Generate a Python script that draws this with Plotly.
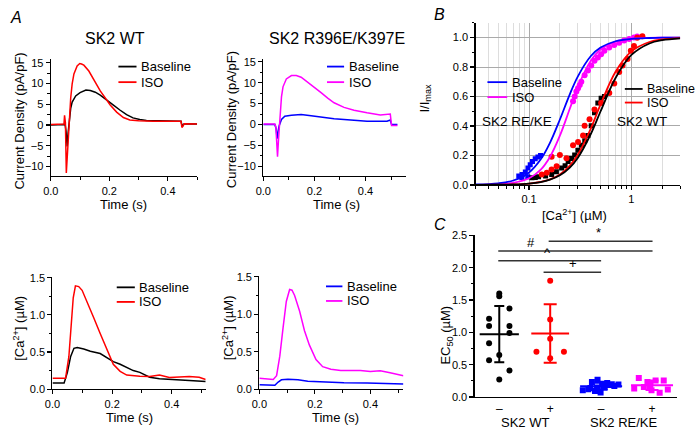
import plotly.graph_objects as go

W, H = 697, 436
FONT = "Liberation Sans"

# ---------------- Panel A : current density, SK2 WT ----------------
wt_cur_base_t = [0, 0.04, 0.049, 0.052, 0.056, 0.059, 0.063, 0.068, 0.073, 0.085, 0.1, 0.12, 0.135,
                 0.152, 0.169, 0.191, 0.214, 0.236, 0.259, 0.281, 0.304, 0.327, 0.4, 0.445, 0.449, 0.456, 0.5]
wt_cur_base_v = [0.0, 0.0, 0.1, -1.5, -5.2, -2.0, 1.3, 4.0, 5.5, 7.0, 7.8, 8.4, 8.3,
                 7.9, 7.2, 6.1, 4.8, 3.6, 2.5, 1.7, 1.3, 1.1, 0.9, 0.9, -0.3, 0.3, 0.2]
wt_cur_iso_t = [0, 0.04, 0.045, 0.047, 0.05, 0.053, 0.056, 0.06, 0.064, 0.068, 0.073, 0.079, 0.09, 0.099,
                0.105, 0.113, 0.13, 0.146, 0.169, 0.191, 0.203, 0.225, 0.248, 0.27, 0.3, 0.35, 0.4, 0.445,
                0.448, 0.452, 0.456, 0.47, 0.5]
wt_cur_iso_v = [0.1, 0.15, 0.2, 2.3, 0.5, -11.6, -8.0, -3.0, 3.0, 6.5, 9.9, 12.3, 14.2, 14.8,
                14.7, 14.4, 13.0, 11.1, 8.2, 6.0, 4.8, 3.1, 1.8, 1.2, 1.0, 0.9, 0.9, 0.9,
                -0.6, -0.3, 0.3, 0.3, 0.2]

# ---------------- Panel A : current density, SK2 R396E/K397E ----------------
mut_cur_base_t = [0, 0.045, 0.05, 0.054, 0.058, 0.062, 0.071, 0.084, 0.11, 0.148, 0.187, 0.226, 0.277,
                  0.342, 0.406, 0.484, 0.497, 0.502, 0.525]
mut_cur_base_v = [0.0, 0.0, -1.0, -3.4, -1.5, -0.3, 1.2, 2.0, 2.2, 2.4, 2.1, 1.8, 1.4,
                  1.1, 0.8, 0.8, 1.1, 0.0, 0.0]
mut_cur_iso_t = [0, 0.045, 0.049, 0.0555, 0.06, 0.0645, 0.071, 0.077, 0.09, 0.11, 0.129, 0.148, 0.174,
                 0.2, 0.226, 0.252, 0.277, 0.316, 0.355, 0.406, 0.458, 0.497, 0.502, 0.525]
mut_cur_iso_v = [0.1, 0.1, -0.5, -7.7, -3.0, 2.0, 6.6, 9.0, 10.9, 11.7, 11.7, 11.3, 10.1,
                 9.0, 7.6, 6.3, 5.2, 4.1, 3.4, 2.8, 2.3, 2.5, -0.2, -0.2]

# ---------------- Panel A : [Ca2+], SK2 WT ----------------
wt_ca_base_t = [0, 0.039, 0.05, 0.061, 0.072, 0.083, 0.105, 0.127, 0.16, 0.182, 0.204, 0.227, 0.249,
                0.271, 0.293, 0.326, 0.359, 0.403, 0.459, 0.514]
wt_ca_base_v = [0.083, 0.083, 0.226, 0.44, 0.55, 0.56, 0.54, 0.51, 0.48, 0.42, 0.37, 0.335, 0.29,
                0.25, 0.226, 0.16, 0.14, 0.126, 0.117, 0.104]
wt_ca_iso_t = [0, 0.044, 0.055, 0.063, 0.0696, 0.077, 0.088, 0.0994, 0.116, 0.138, 0.16, 0.182, 0.204,
               0.227, 0.249, 0.293, 0.326, 0.359, 0.392, 0.459, 0.492, 0.514]
wt_ca_iso_v = [0.148, 0.148, 0.44, 0.88, 1.23, 1.39, 1.38, 1.33, 1.18, 0.965, 0.75, 0.53, 0.335,
               0.24, 0.19, 0.174, 0.17, 0.19, 0.157, 0.17, 0.16, 0.13]

# ---------------- Panel A : [Ca2+], SK2 R396E/K397E ----------------
mut_ca_base_t = [0, 0.0558, 0.0677, 0.0795, 0.103, 0.139, 0.1745, 0.234, 0.305, 0.388, 0.459, 0.519]
mut_ca_base_v = [0.06, 0.052, 0.095, 0.125, 0.133, 0.125, 0.107, 0.095, 0.086, 0.082, 0.073, 0.069]
mut_ca_iso_t = [0, 0.05, 0.062, 0.0736, 0.0855, 0.097, 0.109, 0.1175, 0.127, 0.145, 0.1626, 0.18, 0.204,
                0.228, 0.2576, 0.293, 0.329, 0.364, 0.4, 0.4356, 0.471, 0.519]
mut_ca_iso_v = [0.146, 0.13, 0.18, 0.44, 0.825, 1.17, 1.33, 1.32, 1.25, 1.04, 0.78, 0.59, 0.395,
                0.30, 0.266, 0.25, 0.25, 0.25, 0.236, 0.245, 0.22, 0.18]

# ---------------- Panel B : I/Imax vs [Ca2+] ----------------
fit_ca = [0.03, 0.05, 0.07, 0.1, 0.13, 0.16, 0.2, 0.25, 0.3, 0.4, 0.5, 0.7, 1.0, 1.5, 2.0, 3.0]
fit_rk_base = [0.003, 0.011, 0.030, 0.085, 0.174, 0.286, 0.444, 0.615, 0.737, 0.873, 0.932, 0.975, 0.991, 0.997, 0.999, 1.0]
fit_rk_iso = [0.001, 0.0045, 0.014, 0.045, 0.104, 0.19, 0.334, 0.517, 0.666, 0.841, 0.919, 0.973, 0.992, 0.998, 0.999, 1.0]
fit_wt_base = [0.0003, 0.0013, 0.0033, 0.0093, 0.0197, 0.0355, 0.0655, 0.118, 0.185, 0.344, 0.5, 0.726, 0.882, 0.960, 0.982, 0.9945]
fit_wt_iso = [0.0003, 0.0012, 0.0033, 0.0095, 0.0207, 0.038, 0.0715, 0.131, 0.206, 0.381, 0.546, 0.768, 0.906, 0.970, 0.987, 0.996]

rk_base_ca = [0.0793, 0.0854, 0.0919, 0.0975, 0.1026, 0.108, 0.1148, 0.122, 0.1294, 0.085, 0.097]
rk_base_i = [0.06, 0.071, 0.088, 0.115, 0.137, 0.159, 0.177, 0.19, 0.199, 0.05, 0.055]
rk_iso_ca = [0.269, 0.279, 0.29, 0.301, 0.313, 0.324, 0.349, 0.376, 0.405, 0.436, 0.47, 0.506,
             0.545, 0.608, 0.68, 0.76, 0.85, 0.95, 1.06, 1.14]
rk_iso_i = [0.567, 0.60, 0.634, 0.656, 0.678, 0.70, 0.744, 0.777, 0.81, 0.843, 0.865, 0.887,
            0.91, 0.932, 0.949, 0.965, 0.98, 0.991, 1.0, 1.007]
wt_base_ca = [0.1067, 0.1237, 0.1663, 0.208, 0.241, 0.279, 0.324, 0.376, 0.405, 0.436, 0.47, 0.506, 0.545,
              0.115, 0.145, 0.185, 0.225, 0.26, 0.3, 0.35]
wt_base_i = [0.048, 0.055, 0.071, 0.115, 0.159, 0.203, 0.269, 0.336, 0.402, 0.49, 0.556, 0.589, 0.60,
             0.05, 0.06, 0.09, 0.13, 0.18, 0.235, 0.3]
wt_iso_ca = [0.133, 0.149, 0.166, 0.186, 0.166, 0.2, 0.232, 0.269, 0.301, 0.337, 0.349, 0.39, 0.436,
             0.506, 0.608, 0.68, 0.76, 0.82, 0.917, 0.987, 1.06, 1.14, 1.28]
wt_iso_i = [0.071, 0.082, 0.104, 0.126, 0.192, 0.203, 0.181, 0.269, 0.291, 0.336, 0.402, 0.446, 0.512,
            0.556, 0.623, 0.689, 0.766, 0.81, 0.854, 0.91, 0.943, 0.998, 1.009]

# ---------------- Panel C : EC50 ----------------
group_pos = [1, 2, 3, 4]
group_signs = ["–", "+", "–", "+"]
group_names = ["SK2 WT", "SK2 RE/KE"]
ec_wt_base = [1.60, 1.56, 1.37, 1.21, 1.10, 1.10, 0.99, 0.83, 0.65, 0.57, 0.41, 0.27]
jit_wt_base = [0.0, 0.0, 0.2, -0.2, -0.2, 0.2, 0.2, -0.2, 0.0, -0.2, 0.2, 0.0]
ec_wt_iso = [1.80, 1.20, 0.90, 0.70, 0.70, 0.60]
jit_wt_iso = [0.0, 0.0, 0.0, -0.27, 0.27, 0.0]
ec_rk_base = [0.105, 0.12, 0.23, 0.09, 0.266, 0.07, 0.206, 0.155, 0.216, 0.186, 0.196, 0.17, 0.191, 0.14, 0.146]
jit_rk_base = [-0.36, -0.25, -0.18, -0.12, -0.07, -0.01, 0.02, 0.07, 0.12, 0.16, 0.21, 0.26, 0.34, -0.21, -0.08]
ec_rk_iso = [0.295, 0.13, 0.155, 0.23, 0.205, 0.105, 0.255, 0.065, 0.255, 0.115, 0.16]
jit_rk_iso = [-0.26, -0.35, -0.16, -0.09, -0.03, -0.01, 0.07, 0.15, 0.23, 0.31, -0.04]
# significance bars: (x start, x end, y, label, label x)
sig_bars = [(1.97, 4.01, 2.41, "*", 2.94),
            (0.98, 4.01, 2.26, "#", 1.62),
            (0.98, 3.00, 2.11, "^", 1.95),
            (1.87, 3.00, 1.93, "+", 2.44)]

BLACK, RED, BLUE, MAG = "#000000", "#ff0000", "#0000ff", "#ff00ff"


def dx(a, b):
    return [a / W, b / W]


def dy(top, bottom):
    return [1 - bottom / H, 1 - top / H]


def base_axis(**kw):
    d = dict(showline=True, linecolor="black", linewidth=1.2, ticks="outside", ticklen=4,
             tickwidth=1.2, tickcolor="black", showgrid=False, zeroline=False,
             tickfont=dict(family=FONT, size=11, color="black"))
    d.update(kw)
    return d


fig = go.Figure()


def line(x, y, color, xa, ya, w=1.5, shape="linear"):
    fig.add_trace(go.Scatter(x=x, y=y, mode="lines", line=dict(color=color, width=w, shape=shape),
                             xaxis=xa, yaxis=ya, hoverinfo="skip"))


line(wt_cur_base_t, wt_cur_base_v, BLACK, "x", "y")
line(wt_cur_iso_t, wt_cur_iso_v, RED, "x", "y")
line(mut_cur_base_t, mut_cur_base_v, BLUE, "x2", "y2")
line(mut_cur_iso_t, mut_cur_iso_v, MAG, "x2", "y2")
line(wt_ca_base_t, wt_ca_base_v, BLACK, "x3", "y3")
line(wt_ca_iso_t, wt_ca_iso_v, RED, "x3", "y3")
line(mut_ca_base_t, mut_ca_base_v, BLUE, "x4", "y4")
line(mut_ca_iso_t, mut_ca_iso_v, MAG, "x4", "y4")


def pts(x, y, color, symbol, size, xa, ya):
    fig.add_trace(go.Scatter(x=x, y=y, mode="markers",
                             marker=dict(color=color, symbol=symbol, size=size, line=dict(width=0)),
                             xaxis=xa, yaxis=ya, hoverinfo="skip"))


# Panel B
pts(rk_base_ca, rk_base_i, BLUE, "square", 5, "x5", "y5")
pts(rk_iso_ca, rk_iso_i, MAG, "circle", 6, "x5", "y5")
pts(wt_base_ca, wt_base_i, BLACK, "square", 5, "x5", "y5")
pts(wt_iso_ca, wt_iso_i, RED, "circle", 6, "x5", "y5")
line(fit_ca, fit_rk_iso, MAG, "x5", "y5", 1.8, "spline")
line(fit_ca, fit_rk_base, BLUE, "x5", "y5", 1.8, "spline")
line(fit_ca, fit_wt_iso, RED, "x5", "y5", 1.8, "spline")
line(fit_ca, fit_wt_base, BLACK, "x5", "y5", 1.8, "spline")

# Panel C
groups = [(ec_wt_base, jit_wt_base, BLACK, "circle", 6, 28, 10),
          (ec_wt_iso, jit_wt_iso, RED, "circle", 6, 27, 13),
          (ec_rk_base, jit_rk_base, BLUE, "square", 6, 30, 13),
          (ec_rk_iso, jit_rk_iso, MAG, "square", 6, 30, 13)]
for pos, (vals, jit, col, sym, sz, mw, cw) in zip(group_pos, groups):
    pts([pos + j for j in jit], vals, col, sym, sz, "x6", "y6")
    n = len(vals)
    m = sum(vals) / n
    sd = (sum((v - m) ** 2 for v in vals) / (n - 1)) ** 0.5
    fig.add_trace(go.Scatter(x=[pos], y=[m], mode="markers", xaxis="x6", yaxis="y6",
                             marker=dict(symbol="line-ew-open", size=mw, color=col,
                                         line=dict(color=col, width=2)),
                             error_y=dict(type="data", array=[sd], color=col, thickness=2, width=cw / 2),
                             hoverinfo="skip"))

shapes = []
annotations = []


def ann(text, x, y, size=13, angle=0, xanchor="center", yanchor="middle", **kw):
    annotations.append(dict(text=text, x=x / W, y=1 - y / H, xref="paper", yref="paper",
                            showarrow=False, textangle=angle, xanchor=xanchor, yanchor=yanchor,
                            font=dict(family=FONT, size=size, color="black"), **kw))


def legend_item(x0, x1, y, color, text, size=13):
    shapes.append(dict(type="line", xref="paper", yref="paper", x0=x0 / W, x1=x1 / W,
                       y0=1 - y / H, y1=1 - y / H, line=dict(color=color, width=1.8)))
    ann(text, x1 + 2.5, y, size=size, xanchor="left")


for (bx0, bx1, by, lab, lx) in sig_bars:
    shapes.append(dict(type="line", xref="x6", yref="y6", x0=bx0, x1=bx1, y0=by, y1=by,
                       line=dict(color="#333333", width=1.6)))
    annotations.append(dict(text=lab, x=lx, y=by, xref="x6", yref="y6", showarrow=False,
                            yanchor="bottom", yshift=-1,
                            font=dict(family=FONT, size=13, color="black")))

# Legends
legend_item(111.7, 130, 62.3, BLACK, "Baseline")
legend_item(111.7, 130, 78.3, RED, "ISO")
legend_item(322.7, 340, 62.3, BLUE, "Baseline")
legend_item(322.7, 340, 78.3, MAG, "ISO")
legend_item(110, 128.3, 289.3, BLACK, "Baseline")
legend_item(110, 128.3, 304.3, RED, "ISO")
legend_item(321.7, 338.3, 288.3, BLUE, "Baseline")
legend_item(321.7, 338.3, 303.3, MAG, "ISO")
legend_item(485, 505, 78.3, BLUE, "Baseline")
legend_item(485, 505, 93.7, MAG, "ISO")
legend_item(624, 642, 85.3, BLACK, "Baseline", 12.5)
legend_item(624, 642, 99.3, RED, "ISO", 12.5)

# Panel letters and titles
ann("<i>A</i>", 8, 12, size=16)
ann("<i>B</i>", 437, 9, size=16)
ann("<i>C</i>", 437, 225, size=16)
ann("SK2 WT", 108, 33, size=16)
ann("SK2 R396E/K397E", 333, 33, size=16)

# Axis titles
ann("Current Density (pA/pF)", 12, 118, angle=-90)
ann("Current Density (pA/pF)", 226, 117, angle=-90)
ann("Time (s)", 117, 204)
ann("Time (s)", 332, 204)
ann("[Ca<sup>2+</sup>] (µM)", 11, 331, angle=-90)
ann("[Ca<sup>2+</sup>] (µM)", 222, 331, angle=-90)
ann("Time (s)", 123, 423)
ann("Time (s)", 331, 423)
ann("I/I<sub>max</sub>", 422, 95, angle=-90)
ann("[Ca<sup>2+</sup>] (µM)", 573, 214.5)
ann("EC<sub>50</sub> (µM)", 444, 338, angle=-90)
ann("SK2 RE/KE", 515, 118.3, size=13.5)
ann("SK2 WT", 641, 118.3, size=13.5)
ann(group_names[0], 523, 428)
ann(group_names[1], 623, 428)

minor_t = dict(ticks="outside", ticklen=2.5, tickwidth=1, tickcolor="black", dtick=0.1)
minor_cur = dict(ticks="outside", ticklen=2.5, tickwidth=1, tickcolor="black", dtick=2.5)
minor_ca = dict(ticks="outside", ticklen=2.5, tickwidth=1, tickcolor="black", dtick=0.25)

layout = dict(
    width=W, height=H, autosize=False, margin=dict(l=0, r=0, t=0, b=0),
    paper_bgcolor="white", plot_bgcolor="white", showlegend=False,
    font=dict(family=FONT, color="black"),
    xaxis=base_axis(domain=dx(43.3, 191.3), range=[0, 0.5], anchor="y",
                    tickvals=[0, 0.2, 0.4], tickformat=".1f", minor=minor_t),
    yaxis=base_axis(domain=dy(55, 175), range=[-12.35, 15.78], anchor="x",
                    tickvals=[-10, -5, 0, 5, 10, 15], minor=minor_cur),
    xaxis2=base_axis(domain=dx(258.3, 403), range=[0, 0.56], anchor="y2",
                     tickvals=[0, 0.2, 0.4], tickformat=".1f", minor=minor_t),
    yaxis2=base_axis(domain=dy(55, 175), range=[-12.33, 15.53], anchor="x2",
                     tickvals=[-10, -5, 0, 5, 10, 15], minor=minor_cur),
    xaxis3=base_axis(domain=dx(45, 200), range=[0, 0.514], anchor="y3",
                     tickvals=[0, 0.2, 0.4], tickformat=".1f", minor=minor_t),
    yaxis3=base_axis(domain=dy(279, 394), range=[0, 1.505], anchor="x3",
                     tickvals=[0, 0.5, 1.0, 1.5], tickformat=".1f", minor=minor_ca),
    xaxis4=base_axis(domain=dx(254.3, 400), range=[0, 0.519], anchor="y4",
                     tickvals=[0, 0.2, 0.4], tickformat=".1f", minor=minor_t),
    yaxis4=base_axis(domain=dy(278, 394), range=[0, 1.505], anchor="x4",
                     tickvals=[0, 0.5, 1.0, 1.5], tickformat=".1f", minor=minor_ca),
    xaxis5=base_axis(domain=dx(473, 680), type="log", range=[-1.523, 0.477], anchor="y5",
                     tickvals=[0.1, 1], ticktext=["0.1", "1"], showgrid=True, gridcolor="#aaaaaa",
                     gridwidth=1,
                     minor=dict(tickmode="array",
                                tickvals=[0.03, 0.04, 0.05, 0.06, 0.07, 0.08, 0.09,
                                          0.2, 0.3, 0.4, 0.5, 0.6, 0.7, 0.8, 0.9, 2, 3],
                                ticks="outside", ticklen=2.5, tickwidth=1, tickcolor="black",
                                showgrid=True, gridcolor="#dddddd", gridwidth=1)),
    yaxis5=base_axis(domain=dy(17.3, 184), range=[0, 1.1], anchor="x5",
                     tickvals=[0, 0.2, 0.4, 0.6, 0.8, 1.0], tickformat=".1f",
                     showgrid=True, gridcolor="#aaaaaa", gridwidth=1,
                     minor=dict(ticks="outside", ticklen=2.5, tickwidth=1, tickcolor="black", dtick=0.1)),
    xaxis6=base_axis(domain=dx(472, 677), range=[0.515, 4.495], anchor="y6",
                     tickvals=group_pos, ticktext=group_signs, ticks="",
                     tickfont=dict(family=FONT, size=12, color="black")),
    yaxis6=base_axis(domain=dy(235, 402), range=[0, 2.515], anchor="x6",
                     tickvals=[0, 0.5, 1.0, 1.5, 2.0, 2.5], tickformat=".1f", minor=minor_ca),
    shapes=shapes, annotations=annotations,
)
fig.update_layout(**layout)
fig.write_html("out.html", config={"displayModeBar": False, "staticPlot": True},
               post_script="document.body.style.margin='0';document.body.style.padding='0';")
